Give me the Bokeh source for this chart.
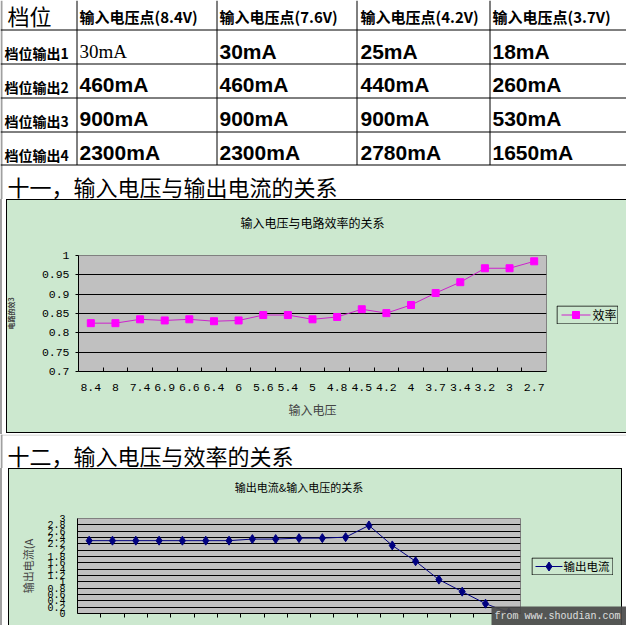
from bokeh.plotting import figure
from bokeh.models import (Range1d, FixedTicker, ColumnDataSource, LinearAxis)
from bokeh.embed import file_html
from bokeh.resources import INLINE
from bokeh.core.properties import value

# ---------------- data ----------------
table_header = ["档位", "输入电压点(8.4V)", "输入电压点(7.6V)", "输入电压点(4.2V)", "输入电压点(3.7V)"]
row_labels = ["档位输出1", "档位输出2", "档位输出3", "档位输出4"]
col_8_4V = ["30mA", "460mA", "900mA", "2300mA"]
col_7_6V = ["30mA", "460mA", "900mA", "2300mA"]
col_4_2V = ["25mA", "440mA", "900mA", "2780mA"]
col_3_7V = ["18mA", "260mA", "530mA", "1650mA"]

heading_1 = "十一，输入电压与输出电流的关系"
heading_2 = "十二，输入电压与效率的关系"

chart1_title = "输入电压与电路效率的关系"
chart1_xlabel = "输入电压"
chart1_ylabel = "电路的效3"
chart1_series = "效率"
chart2_title = "输出电流&输入电压的关系"
chart2_ylabel = "输出电流(A"
chart2_series = "输出电流"
watermark = "from www.shoudian.com"

voltages = ["8.4", "8", "7.4", "6.9", "6.6", "6.4", "6", "5.6", "5.4", "5",
            "4.8", "4.5", "4.2", "4", "3.7", "3.4", "3.2", "3", "2.7"]
efficiency = [0.825, 0.825, 0.835, 0.832, 0.835, 0.830, 0.832, 0.846, 0.846, 0.835,
              0.841, 0.861, 0.851, 0.872, 0.903, 0.931, 0.967, 0.967, 0.985]
current = [2.30, 2.30, 2.30, 2.30, 2.30, 2.30, 2.30, 2.35, 2.35, 2.38,
           2.38, 2.41, 2.78, 2.15, 1.65, 1.07, 0.69, 0.31, 0.03]

eff_ticks = [0.7, 0.75, 0.8, 0.85, 0.9, 0.95, 1.0]
eff_tick_labels = ["0.7", "0.75", "0.8", "0.85", "0.9", "0.95", "1"]
cur_ticks = [0, 0.2, 0.4, 0.6, 0.8, 1, 1.2, 1.4, 1.6, 1.8, 2, 2.2, 2.4, 2.6, 2.8, 3]
cur_tick_labels = ["0", "0.2", "0.4", "0.6", "0.8", "1", "1.2", "1.4", "1.6", "1.8",
                   "2", "2.2", "2.4", "2.6", "2.8", "3"]

# ---------------- styling ----------------
CJK = "Noto Sans CJK SC"
MONO = "Liberation Mono"
GREEN = "#cce8cf"
PLOT_GRAY = "#c0c0c0"
EFF_LINE = "#cc22cc"
EFF_MARK = "#ff00ff"
CUR_COLOR = "#000080"
W = 626

n = len(voltages)
centers = [i + 0.5 for i in range(n)]
bounds = [i for i in range(1, n)]


def page_fig(w, h, bg="white"):
    f = figure(width=w, height=h, x_range=Range1d(0, w), y_range=Range1d(h, 0),
               output_backend="svg", toolbar_location=None,
               min_border=0, min_border_left=0, min_border_right=0,
               min_border_top=0, min_border_bottom=0)
    f.axis.visible = False
    f.grid.visible = False
    f.outline_line_color = None
    f.background_fill_color = bg
    f.border_fill_color = bg
    return f


def overlay(f, left, top, z="5"):
    f.styles = {"position": "absolute", "left": f"{left}px", "top": f"{top}px",
                "z-index": z}
    return f


def title_axis(fig, text, size, standoff):
    ax = LinearAxis(ticker=FixedTicker(ticks=[]), axis_label=text)
    ax.axis_line_color = None
    ax.major_tick_line_color = None
    ax.minor_tick_line_color = None
    ax.major_tick_out = 0
    ax.major_tick_in = 0
    ax.major_label_standoff = 0
    ax.axis_label_text_font = CJK
    ax.axis_label_text_font_size = size
    ax.axis_label_text_font_style = "normal"
    ax.axis_label_text_color = "black"
    ax.axis_label_standoff = standoff
    fig.add_layout(ax, "above")


def legend_fig(left, top, w, h, label, font_size, line_x, mark_x, text_x,
               line_color, mark, mark_size, mark_color):
    f = page_fig(w, h, bg=None)
    f.quad(left=[0.5], right=[w - 0.5], top=[0.5], bottom=[h - 0.5],
           fill_color=None, line_color="black", line_width=1)
    f.segment(x0=[line_x[0]], y0=[h / 2], x1=[line_x[1]], y1=[h / 2],
              line_color=line_color, line_width=1)
    f.scatter(x=[mark_x], y=[h / 2], marker=mark, size=mark_size,
              fill_color=mark_color, line_color=mark_color)
    f.text(x=[text_x], y=[h / 2 - 0.5], text=[label], text_font=value(CJK),
           text_font_size=value(font_size), text_baseline="middle", text_color="black")
    return overlay(f, left, top)


def heading_fig(text, top, h=50):
    f = page_fig(360, h, bg=None)
    f.text(x=[7], y=[h / 2], text=[text], text_font=value(CJK),
           text_font_size=value("22px"), text_baseline="middle", text_color="black")
    return overlay(f, 0, top)


# ---------------- table ----------------
H0 = 199
f0 = page_fig(W, H0)
f0.segment(x0=[1], y0=[0], x1=[1], y1=[H0], line_color="#a0a0a0", line_width=2)
row_lines = [29.5, 63.5, 97.5, 131.5, 164.5]
col_lines = [76.5, 216.5, 356.5, 489.5]
f0.segment(x0=[0] * len(row_lines), y0=row_lines, x1=[W] * len(row_lines), y1=row_lines,
           line_color="black", line_width=1)
f0.segment(x0=col_lines, y0=[0] * len(col_lines), x1=col_lines, y1=[164.5] * len(col_lines),
           line_color="black", line_width=1)

col_x = [79, 219, 360, 492]
f0.text(x=[7], y=[14], text=[table_header[0]], text_font=value(CJK),
        text_font_size=value("22px"), text_baseline="middle", text_color="black")
f0.text(x=col_x, y=[15.5] * 4, text=table_header[1:], text_font=value(CJK),
        text_font_size=value("15px"), text_font_style="bold", text_baseline="middle",
        text_color="black")
label_y = [52, 86, 120, 154]
f0.text(x=[4] * 4, y=label_y, text=row_labels, text_font=value(CJK),
        text_font_size=value("14px"), text_font_style="bold", text_baseline="middle",
        text_color="black")
value_y = [50.5, 84, 118, 152]
cols = [col_8_4V, col_7_6V, col_4_2V, col_3_7V]
xs, ys, ts, fonts, sizes, styles = [], [], [], [], [], []
for ci, colvals in enumerate(cols):
    for ri, v in enumerate(colvals):
        xs.append(col_x[ci])
        ys.append(value_y[ri])
        ts.append(v)
        if ci == 0 and ri == 0:
            fonts.append("Liberation Serif"); sizes.append("19px"); styles.append("normal")
        else:
            fonts.append("Liberation Sans"); sizes.append("21px"); styles.append("bold")
src = ColumnDataSource(dict(x=xs, y=ys, t=ts, font=fonts, size=sizes, style=styles))
f0.text(x="x", y="y", text="t", text_font="font", text_font_size="size",
        text_font_style="style", text_baseline="middle", text_color="black", source=src)

# ---------------- chart 1 ----------------
H1 = 235
f1 = figure(width=W, height=H1, x_range=Range1d(0, n), y_range=Range1d(0.7, 1.0),
            title=None, output_backend="svg", toolbar_location=None,
            min_border_left=78, min_border_right=80, min_border_top=56, min_border_bottom=63)
f1.border_fill_color = None
f1.background_fill_color = PLOT_GRAY
f1.outline_line_color = "#808080"
f1.styles = {"background": (
    f"linear-gradient({GREEN},{GREEN}) 7px 1px / 619px 232px no-repeat, "
    "linear-gradient(#000,#000) 6px 0px / 620px 234px no-repeat, "
    "linear-gradient(#a0a0a0,#a0a0a0) 0px 0px / 2px 100% no-repeat, #ffffff")}

xa = f1.below[0]
ya = f1.left[0]
title_axis(f1, chart1_title, "12px", 25)

f1.xgrid.visible = False
f1.ygrid.ticker = FixedTicker(ticks=eff_ticks)
f1.ygrid.grid_line_color = "black"
f1.ygrid.grid_line_width = 1

ya.ticker = FixedTicker(ticks=eff_ticks)
ya.major_label_overrides = dict(zip(eff_ticks, eff_tick_labels))
ya.major_label_text_font = MONO
ya.major_label_text_font_size = "11.5px"
ya.major_label_text_color = "black"
ya.major_label_standoff = 6
ya.major_tick_out = 3
ya.major_tick_in = 0
ya.minor_tick_out = 0
ya.axis_line_color = "black"
ya.major_tick_line_color = "black"
ya.axis_label = chart1_ylabel
ya.axis_label_text_font = CJK
ya.axis_label_text_font_size = "7px"
ya.axis_label_text_font_style = "bold"
ya.axis_label_standoff = 23

xa.ticker = FixedTicker(ticks=centers, minor_ticks=bounds)
xa.major_label_overrides = dict(zip(centers, voltages))
xa.major_label_text_font = MONO
xa.major_label_text_font_size = "11.5px"
xa.major_label_text_color = "black"
xa.major_label_standoff = 12
xa.major_tick_out = 0
xa.major_tick_in = 0
xa.minor_tick_in = 4
xa.minor_tick_out = 0
xa.minor_tick_line_color = "black"
xa.axis_line_color = "black"
xa.axis_label = chart1_xlabel
xa.axis_label_text_font = CJK
xa.axis_label_text_font_size = "12px"
xa.axis_label_text_font_style = "normal"
xa.axis_label_standoff = 7

f1.line(centers, efficiency, line_color=EFF_LINE, line_width=1)
f1.scatter(centers, efficiency, marker="square", size=7,
           fill_color=EFF_MARK, line_color=EFF_MARK)

# ---------------- spacer row for heading 2 ----------------
H2 = 34
f2 = page_fig(W, H2)
f2.segment(x0=[0], y0=[0.5], x1=[W], y1=[0.5], line_color="#c8c8c8", line_width=1)
f2.segment(x0=[1], y0=[0], x1=[1], y1=[H2], line_color="#a0a0a0", line_width=2)

# ---------------- chart 2 ----------------
H3 = 157
f3 = figure(width=W, height=H3, x_range=Range1d(0, n), y_range=Range1d(0, 3),
            title=None, output_backend="svg", toolbar_location=None,
            min_border_left=77, min_border_right=106, min_border_top=50, min_border_bottom=12)
f3.border_fill_color = None
f3.background_fill_color = PLOT_GRAY
f3.outline_line_color = "#808080"
f3.styles = {"background": (
    f"linear-gradient({GREEN},{GREEN}) 9px 1px / 612px 300px no-repeat, "
    "linear-gradient(#000,#000) 8px 0px / 614px 300px no-repeat, "
    "linear-gradient(#a0a0a0,#a0a0a0) 0px 0px / 2px 100% no-repeat, #ffffff")}

xa3 = f3.below[0]
ya3 = f3.left[0]
title_axis(f3, chart2_title, "11px", 24)

f3.xgrid.visible = False
f3.ygrid.ticker = FixedTicker(ticks=cur_ticks)
f3.ygrid.grid_line_color = "black"
f3.ygrid.grid_line_width = 1

ya3.ticker = FixedTicker(ticks=cur_ticks)
ya3.major_label_overrides = dict(zip(cur_ticks, cur_tick_labels))
ya3.major_label_text_font = MONO
ya3.major_label_text_font_size = "10px"
ya3.major_label_text_color = "black"
ya3.major_label_standoff = 12
ya3.major_tick_out = 0
ya3.major_tick_in = 0
ya3.minor_tick_out = 0
ya3.axis_line_color = "black"
ya3.axis_label = chart2_ylabel
ya3.axis_label_text_font = CJK
ya3.axis_label_text_font_size = "11px"
ya3.axis_label_text_font_style = "normal"
ya3.axis_label_standoff = 8

xa3.ticker = FixedTicker(ticks=[], minor_ticks=bounds)
xa3.major_label_standoff = 0
xa3.major_tick_out = 0
xa3.major_tick_in = 0
xa3.minor_tick_in = 0
xa3.minor_tick_out = 4
xa3.minor_tick_line_color = "black"
xa3.axis_line_color = "black"

f3.line(centers, current, line_color=CUR_COLOR, line_width=1)
f3.scatter(centers, current, marker="diamond", size=9,
           fill_color=CUR_COLOR, line_color=CUR_COLOR)

# ---------------- overlays: headings, legends, watermark ----------------
h1 = heading_fig(heading_1, 160)
h2 = heading_fig(heading_2, 429)
lg1 = legend_fig(556, 305, 62, 19, chart1_series, "12px", (5, 34), 19.5, 36,
                 EFF_LINE, "square", 7, EFF_MARK)
lg3 = legend_fig(531, 557, 82, 18, chart2_series, "11.5px", (4, 31), 17.5, 32,
                 CUR_COLOR, "diamond", 9, CUR_COLOR)

fw = page_fig(135, 19, bg="#4a4a4a")
fw.text(x=[3], y=[10], text=[watermark], text_font=value(MONO),
        text_font_size=value("10px"), text_baseline="middle", text_color="#e0e0e0")
fw.styles = {"position": "absolute", "left": "491px", "top": "606px",
             "z-index": "10", "opacity": "0.92"}

p = [f0, f1, f2, f3, h1, h2, lg1, lg3, fw]
html = file_html(p, INLINE)
html = html.replace("<head>", "<head><style>html,body{margin:0;padding:0;}</style>", 1)
open("out.html", "w").write(html)
